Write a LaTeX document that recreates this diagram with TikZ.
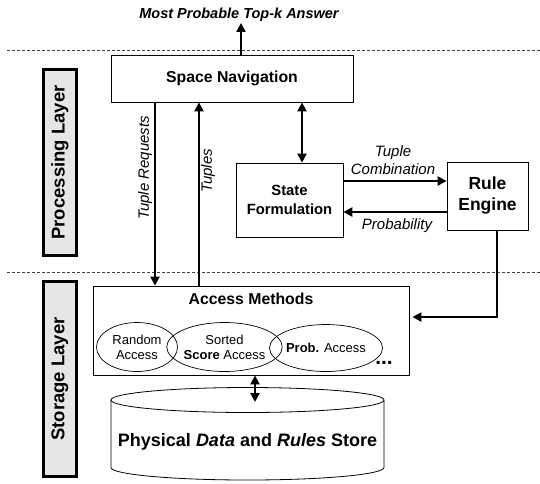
\documentclass[tikz,border=0pt]{standalone}
\usepackage{fontspec}
\setmainfont{Liberation Sans}
\usetikzlibrary{arrows.meta,shapes.geometric,calc}
\definecolor{layergray}{HTML}{E6E6E6}
\tikzset{
  box/.style={draw=black, line width=0.8pt, fill=white, inner sep=0pt, align=center, font=\bfseries},
  layerbox/.style={draw=black, line width=3pt, fill=layergray, inner sep=0pt, rotate=90,
     font=\fontsize{18.5}{20}\selectfont\bfseries},
  accell/.style={draw=black, line width=0.7pt, ellipse, inner sep=0pt, align=center,
     font=\fontsize{13}{15}\selectfont},
  arr/.style={line width=2.8pt, -{Triangle[length=9pt,width=9pt]}},
  dblarr/.style={line width=2.8pt, {Triangle[length=9pt,width=9pt]}-{Triangle[length=9pt,width=9pt]}},
  lbl/.style={font=\fontsize{15}{18}\selectfont\itshape, inner sep=0pt, align=center},
  sep/.style={draw=black!75, line width=0.8pt, dash pattern=on 3pt off 2pt},
}
\begin{document}
\begin{tikzpicture}[x=1pt,y=-1pt]
\useasboundingbox (0,0) rectangle (540,483);

% separators
\draw[sep] (7,50) -- (540,50);
\draw[sep] (7,272) -- (540,272);

% layer boxes
\node[layerbox, minimum width=186pt, minimum height=33pt] (proc) at (60,162.5) {Processing Layer};
\node[layerbox, minimum width=195pt, minimum height=33pt] (stor) at (60,379) {Storage Layer};

% answer
\node[font=\fontsize{14.5}{16}\selectfont\bfseries\itshape, inner sep=1pt] (answer) at (239,15) {Most Probable Top-k Answer};

% processing boxes
\node[box, minimum width=242pt, minimum height=47pt, font=\fontsize{15.8}{18}\selectfont\bfseries] (nav) at (232,78.5) {Space Navigation};
\node[box, minimum width=107pt, minimum height=74pt, font=\fontsize{14.8}{19}\selectfont\bfseries] (state) at (289.5,200) {State\\Formulation};
\node[box, minimum width=81pt, minimum height=68pt, font=\fontsize{17.5}{21}\selectfont\bfseries] (rule) at (487.5,196) {Rule\\Engine};

% access methods
\node[box, minimum width=316pt, minimum height=89pt] (acc) at (251,330.5) {};
\node[font=\fontsize{15.8}{18}\selectfont\bfseries, inner sep=0pt] (acctitle) at (251,299) {Access Methods};
\node[accell, minimum width=81pt, minimum height=49pt] (rand) at (137,347) {Random\\Access};
\node[accell, minimum width=89pt, minimum height=49pt] (sorted) at (224.5,347) {Sorted\\\textbf{Score} Access};
\node[accell, minimum width=100pt, minimum height=47pt] (prob) at (326,348) {\textbf{Prob.} Access};
\node[font=\fontsize{21}{22}\selectfont\bfseries, anchor=base, inner sep=0pt] (dots) at (384,364) {...};

% cylinder store
\draw[line width=0.8pt, fill=white] (111,400) -- (111,467.5)
   arc[start angle=180, end angle=360, x radius=136.5pt, y radius=12.5pt] -- (384,400);
\draw[line width=0.8pt, fill=white] (247.5,400) ellipse [x radius=136.5pt, y radius=12.5pt];
\coordinate (dbtop) at (255,402);
\node[font=\fontsize{18}{20}\selectfont\bfseries, inner sep=0pt] (store) at (247.5,442)
   {Physical \textit{Data} and \textit{Rules} Store};

% connectors
\draw[arr] ([xshift=9pt]nav.north) -- ([xshift=9pt]nav.north |- answer.south);
\draw[arr] ([xshift=-77pt]nav.south) -- ([xshift=-96pt]acc.north);
\draw[arr] ([xshift=-52pt]acc.north) -- ([xshift=-33pt]nav.south);
\draw[dblarr] ([xshift=70pt]nav.south) -- ([xshift=12.5pt]state.north);
\draw[arr] ([yshift=19pt]state.east) -- ([yshift=19pt]state.east -| rule.west);
\draw[arr] ([yshift=-12pt]state.east -| rule.west) -- ([yshift=-12pt]state.east);
\draw[arr] ([xshift=9.5pt]rule.south) |- ([xshift=3pt,yshift=13.5pt]acc.east);
\draw[dblarr] ([xshift=4pt]acc.south) -- (dbtop);

% labels
\node[lbl, rotate=90] (lreq) at (145,168) {Tuple Requests};
\node[lbl, rotate=90] (ltup) at (208,171) {Tuples};
\node[lbl] (lcomb) at (393,160) {Tuple\\Combination};
\node[lbl] (lprob) at (397,226) {Probability};
\end{tikzpicture}
\end{document}
